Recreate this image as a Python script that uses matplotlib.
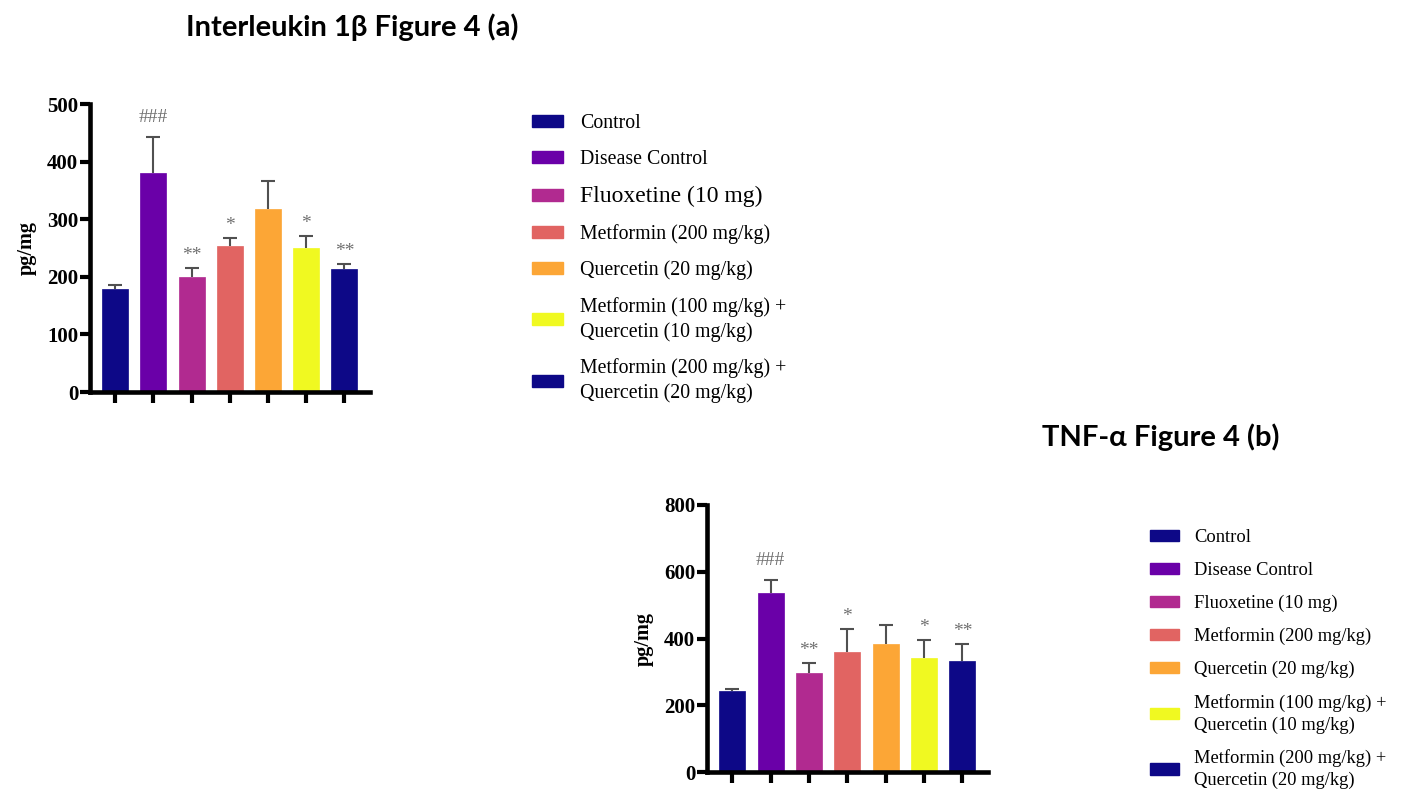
import numpy as np
import matplotlib.pyplot as plt
from matplotlib.patches import Patch

groups = ['Control', 'Disease Control', 'Fluoxetine (10 mg)', 'Metformin (200 mg/kg)',
          'Quercetin (20 mg/kg)', 'Metformin (100 mg/kg) +\nQuercetin (10 mg/kg)',
          'Metformin (200 mg/kg) +\nQuercetin (20 mg/kg)']
colors = ['#0d0887', '#6a00a8', '#b12a90', '#e16462', '#fca636', '#f0f921', '#0d0887']

# Interleukin 1beta (pg/mg)
il1b_mean = [178, 380, 199, 254, 318, 250, 213]
il1b_err = [7, 63, 16, 14, 49, 20, 9]
il1b_sig = ['', '###', '**', '*', '', '*', '**']

# TNF-alpha (pg/mg)
tnf_mean = [242, 537, 298, 359, 385, 342, 333]
tnf_err = [6, 38, 30, 69, 55, 54, 51]
tnf_sig = ['', '###', '**', '*', '', '*', '**']

serif = 'Liberation Serif'


def bar_panel(ax, means, errs, sig, ymax, ystep):
    x = np.arange(len(means))
    ax.bar(x, means, width=0.68, color=colors, edgecolor=colors, linewidth=0.5, zorder=2)
    eb = ax.errorbar(x, means, yerr=[np.zeros(len(errs)), errs], fmt='none',
                     ecolor='#505050', elinewidth=1.5, capsize=4.7, capthick=1.5, zorder=1)
    eb[1][0].set_visible(False)  # only the upper cap
    for xi, m, e, s in zip(x, means, errs, sig):
        if s:
            off = 14 if s.startswith('#') else 9
            ax.annotate(s, (xi, m + e), xytext=(0, off), textcoords='offset points',
                        ha='center', va='center', fontsize=14, family=serif, color='#707070')
    ax.set_xlim(-0.66, 6.67)
    ax.set_ylim(0, ymax)
    ax.set_yticks(np.arange(0, ymax + 1, ystep))
    ax.set_xticks(x)
    ax.set_xticklabels([''] * len(x))
    for side in ['top', 'right']:
        ax.spines[side].set_visible(False)
    for side in ['left', 'bottom']:
        ax.spines[side].set_linewidth(3.3)
    ax.tick_params(axis='y', length=7, width=3, labelsize=15, pad=1.5)
    ax.tick_params(axis='x', length=8, width=3)
    for lab in ax.get_yticklabels():
        lab.set_family(serif)
        lab.set_fontweight('bold')
    ax.set_ylabel('pg/mg', family=serif, fontweight='bold', fontsize=14.5)
    ax.yaxis.set_label_coords(-0.19, 0.5)


def add_legend(fig, anchor, size, big=None):
    handles = [Patch(facecolor=c, edgecolor=c) for c in colors]
    leg = fig.legend(handles, groups, loc='upper left', bbox_to_anchor=anchor,
                     bbox_transform=fig.transFigure, frameon=False,
                     prop={'family': serif, 'size': size}, handlelength=1.55,
                     handleheight=0.55, handletextpad=0.85, labelspacing=0.85,
                     borderpad=0, borderaxespad=0)
    for t in leg.get_texts():
        t.set_linespacing(1.32)
    if big is not None:
        leg.get_texts()[2].set_fontsize(big)
    return leg


fig = plt.figure(figsize=(14.08, 7.89), dpi=100)
W, H = 1408, 789

ax1 = fig.add_axes([90 / W, 1 - 392 / H, 280 / W, 288 / H])
bar_panel(ax1, il1b_mean, il1b_err, il1b_sig, 500, 100)

ax2 = fig.add_axes([707 / W, 1 - 772 / H, 281 / W, 267 / H])
bar_panel(ax2, tnf_mean, tnf_err, tnf_sig, 800, 200)

add_legend(fig, (532 / W, 1 - 114 / H), 14.3, big=17)
add_legend(fig, (1150 / W, 1 - 529 / H), 13.3)

fig.text(352 / W, 1 - 27 / H, 'Interleukin 1β Figure 4 (a)', ha='center', va='center',
         fontsize=21, fontweight='bold', family='Lato')
fig.text(1161 / W, 1 - 437 / H, 'TNF-α Figure 4 (b)', ha='center', va='center',
         fontsize=21, fontweight='bold', family='Lato')

fig.savefig('out.png', dpi=100)
